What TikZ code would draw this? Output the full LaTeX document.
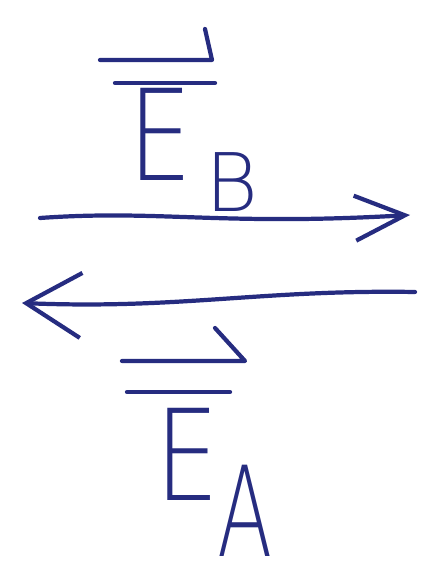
\documentclass[tikz,border=0pt]{standalone}
\usepackage{fontspec}
\usetikzlibrary{arrows.meta}
\newfontfamily\inkfont{DejaVu Sans ExtraLight}
\definecolor{ink}{RGB}{38,44,128}

\begin{document}
\begin{tikzpicture}[
  stroke/.style={line width=2.4pt,ink,line cap=round,line join=round},
  field/.style={inner sep=0pt,text=ink,font=\inkfont\fontsize{72}{72}\selectfont,xscale=0.8},
  index/.style={inner sep=0pt,text=ink,font=\inkfont\fontsize{46}{46}\selectfont}
]
  \useasboundingbox[fill=white] (0,0) rectangle (8.46,11.64);

  % Upper field symbol with bar and arrow.
  \node[field] (eB) at (3.2,8.95) {E};
  \node[index] (subB) at (4.64,8.0) {B};
  \coordinate (barBl) at (2.3,9.98);
  \coordinate (barBr) at (4.3,9.98);
  \coordinate (vecBl) at (2.0,10.44);
  \coordinate (vecBr) at (4.24,10.44);
  \coordinate (hookB) at (4.1,11.06);
  \draw[stroke] (barBl) -- (barBr);
  \draw[stroke] (vecBl) -- (vecBr) -- (hookB);

  % The two field lines.
  \coordinate (rightS) at (0.8,7.28);
  \coordinate (rightE) at (8.2,7.34);
  \draw[stroke,-{Straight Barb[length=10mm,width=9mm]}]
    (rightS) .. controls (3.2,7.45) and (4.4,7.12) .. (rightE);
  \coordinate (leftS) at (8.3,5.8);
  \coordinate (leftE) at (0.44,5.58);
  \draw[stroke,-{Straight Barb[length=11mm,width=13mm]}]
    (leftS) .. controls (5.2,5.85) and (3.6,5.45) .. (leftE);

  % Lower field symbol with bar and arrow.
  \node[field] (eA) at (3.75,2.55) {E};
  \node[index,yscale=1.55] (subA) at (4.9,1.42) {A};
  \coordinate (barAl) at (2.54,3.8);
  \coordinate (barAr) at (4.6,3.8);
  \coordinate (vecAl) at (2.44,4.42);
  \coordinate (vecAr) at (4.9,4.42);
  \coordinate (hookA) at (4.3,5.08);
  \draw[stroke] (barAl) -- (barAr);
  \draw[stroke] (vecAl) -- (vecAr) -- (hookA);
\end{tikzpicture}
\end{document}
